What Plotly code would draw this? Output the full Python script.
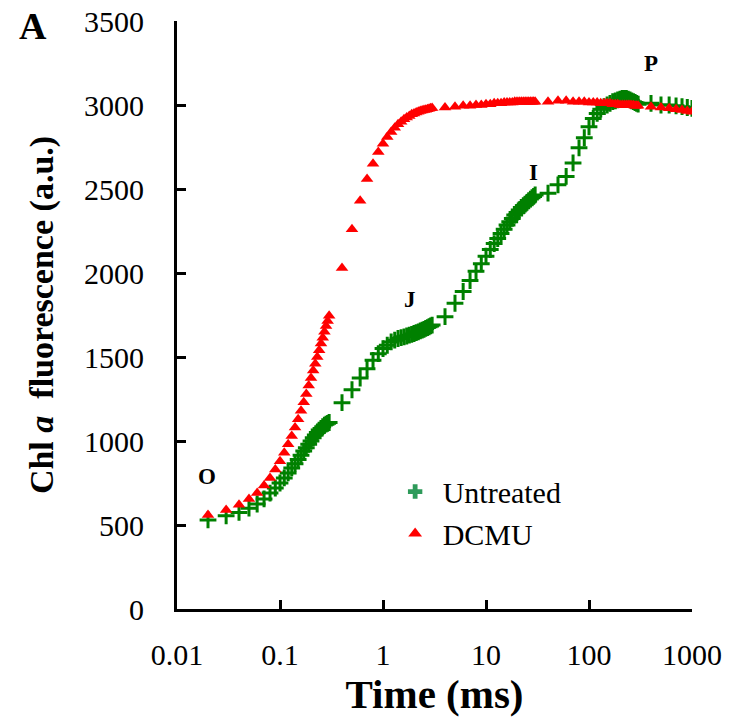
import math
import plotly.graph_objects as go

# Sample times (ms)
time_ms = [0.02, 0.03, 0.04, 0.05, 0.06, 0.07, 0.08, 0.09, 0.10, 0.11, 0.12, 0.13, 0.14, 0.15,
           0.16, 0.17, 0.18, 0.19, 0.20, 0.21, 0.22, 0.23, 0.24, 0.25, 0.26, 0.27, 0.28, 0.29, 0.30,
           0.4, 0.5, 0.6, 0.7, 0.8, 0.9, 1.0, 1.1, 1.2, 1.3, 1.4, 1.5, 1.6, 1.7, 1.8, 1.9, 2.0,
           2.1, 2.2, 2.3, 2.4, 2.5, 2.6, 2.7, 2.8, 2.9, 3.0,
           4, 5, 6, 7, 8, 9, 10, 11, 12, 13, 14, 15, 16, 17, 18, 19, 20, 21, 22, 23, 24, 25, 26,
           27, 28, 29, 30,
           40, 50, 60, 70, 80, 90, 100, 110, 120, 130, 140, 150, 160, 170, 180, 190, 200, 210, 220,
           230, 240, 250, 260, 270, 280, 290, 300,
           400, 500, 600, 700, 800, 900, 1000]

untreated = [530, 555, 575, 600, 625, 655, 690, 720, 750, 780, 810, 840, 865, 890,
             915, 940, 960, 980, 1000, 1020, 1035, 1050, 1065, 1075, 1085, 1095, 1100, 1105, 1110,
             1228, 1305, 1375, 1430, 1480, 1520, 1550, 1570, 1590, 1600, 1610, 1615, 1620, 1625, 1630, 1635, 1640,
             1645, 1650, 1655, 1660, 1665, 1670, 1675, 1680, 1685, 1690,
             1740, 1820, 1890, 1955, 2010, 2055, 2100, 2140, 2175, 2205, 2235, 2260, 2285, 2305, 2325, 2345, 2360,
             2375, 2390, 2400, 2410, 2420, 2430, 2440, 2448, 2456, 2465,
             2475, 2525, 2575, 2655, 2745, 2805, 2870, 2920, 2950, 2975, 2990, 3000, 3010, 3020, 3025, 3030, 3035,
             3040, 3040, 3040, 3035, 3030, 3025, 3020, 3015, 3010, 3005,
             3010, 3000, 3000, 2995, 2990, 2985, 2980]

dcmu = [560, 590, 620, 655, 690, 735, 780, 830, 880, 930, 980, 1030, 1080, 1130,
        1180, 1230, 1280, 1330, 1375, 1420, 1460, 1500, 1540, 1580, 1615, 1650, 1685, 1715, 1745,
        2030, 2260, 2430, 2560, 2650, 2720, 2770, 2810, 2840, 2865, 2885, 2900, 2915, 2925, 2935, 2945, 2950,
        2955, 2960, 2965, 2968, 2970, 2972, 2975, 2978, 2980, 2982,
        2985, 2990, 2995, 2995, 3000, 3000, 3005, 3005, 3010, 3010, 3010, 3015, 3015, 3015, 3015, 3020, 3020,
        3020, 3020, 3020, 3020, 3020, 3020, 3020, 3020, 3020, 3020,
        3020, 3025, 3025, 3020, 3020, 3020, 3015, 3015, 3015, 3010, 3010, 3010, 3010, 3005, 3005, 3005, 3000,
        3000, 3000, 3000, 3000, 3000, 2998, 2998, 2996, 2996, 2995,
        2990, 2985, 2980, 2975, 2970, 2965, 2960]

x_tickvals = [0.01, 0.1, 1, 10, 100, 1000]
x_ticktext = ["0.01", "0.1", "1", "10", "100", "1000"]
y_tickvals = [0, 500, 1000, 1500, 2000, 2500, 3000, 3500]

phase_labels = ["O", "J", "I", "P"]
phase_x = [0.0195, 1.83, 28.6, 400]
phase_y = [786, 1840, 2600, 3245]

FONT = "Liberation Serif"
GREEN = "#008000"
RED = "#ff0000"

fig = go.Figure()
fig.add_trace(go.Scatter(
    x=time_ms, y=untreated, mode="markers", name="Untreated", showlegend=False,
    marker=dict(symbol="cross-thin", size=12, color=GREEN,
                line=dict(color=GREEN, width=3)),
))
fig.add_trace(go.Scatter(
    x=time_ms, y=dcmu, mode="markers", name="DCMU", showlegend=False,
    marker=dict(symbol="triangle-up", size=11, color=RED, line=dict(width=0)),
))
# legend entries (legend glyphs differ slightly from plotted markers)
fig.add_trace(go.Scatter(
    x=[None], y=[None], mode="markers", name="Untreated",
    marker=dict(symbol="cross", size=10, color="#2e9a5a", line=dict(width=0)),
))
fig.add_trace(go.Scatter(
    x=[None], y=[None], mode="markers", name="DCMU",
    marker=dict(symbol="triangle-up", size=11, color=RED, line=dict(width=0)),
))

for lab, xx, yy in zip(phase_labels, phase_x, phase_y):
    fig.add_annotation(x=math.log10(xx), y=yy, xref="x", yref="y", text="<b>%s</b>" % lab,
                       showarrow=False, font=dict(family=FONT, size=23, color="black"))

fig.add_annotation(x=0, y=1, xref="paper", yref="paper", xshift=-144, yshift=-5,
                   text="<b>A</b>", showarrow=False, xanchor="center", yanchor="middle",
                   font=dict(family=FONT, size=38, color="black"))

fig.update_layout(
    width=731, height=719,
    margin=dict(l=177, r=39, t=21, b=110),
    paper_bgcolor="white", plot_bgcolor="white",
    font=dict(family=FONT, color="black"),
    showlegend=True,
    legend=dict(x=0.409, y=0.244, xanchor="left", yanchor="top",
                font=dict(family=FONT, size=30, color="black"),
                bgcolor="rgba(0,0,0,0)", itemsizing="constant", itemwidth=45,
                tracegroupgap=0),
    xaxis=dict(
        type="log", range=[-2, 3], automargin=False,
        tickvals=x_tickvals, ticktext=x_ticktext,
        ticks="inside", ticklen=9, tickwidth=3, tickcolor="black",
        showline=True, linecolor="black", linewidth=3,
        showgrid=False, zeroline=False,
        tickfont=dict(family=FONT, size=30, color="black"),
        ticklabelstandoff=17,
        title=dict(text="<b>Time (ms)</b>", font=dict(family=FONT, size=41, color="black"), standoff=10),
    ),
    yaxis=dict(
        range=[0, 3500], automargin=False,
        tickvals=y_tickvals,
        ticks="inside", ticklen=9, tickwidth=3, tickcolor="black",
        showline=True, linecolor="black", linewidth=3,
        showgrid=False, zeroline=False,
        tickfont=dict(family=FONT, size=30, color="black"),
        ticklabelstandoff=24,
        title=dict(text="<b>Chl <i>a</i>  fluorescence (a.u.)</b>",
                   font=dict(family=FONT, size=34, color="black"), standoff=21),
    ),
)

fig.write_html("out.html")
